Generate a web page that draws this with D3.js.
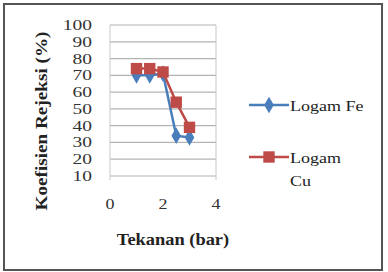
<!DOCTYPE html>
<html>
<head>
<meta charset="utf-8">
<title></title>
<script src="https://d3js.org/d3.v7.min.js"></script>
<style>
body { margin: 0; background: #fff; }
</style>
</head>
<body>
<div id="my_dataviz"></div>
<script type="text/javascript">
var tekanan = [1, 1.5, 2, 2.5, 3]
var logamFe = [70, 70, 71, 34, 33]
var logamCu = [74, 74, 72, 54, 39]
var yTicks = [10, 20, 30, 40, 50, 60, 70, 80, 90, 100]
var xTicks = [0, 2, 4]
var seriesNames = ["Logam Fe", "Logam Cu"]

var width = 388, height = 272
var font = "Liberation Serif"

var svg = d3.select("#my_dataviz")
  .append("svg")
    .attr("width", width)
    .attr("height", height)

// outer frame
svg.append("rect")
  .attr("x", 4).attr("y", 4)
  .attr("width", 378).attr("height", 266)
  .attr("fill", "#fff")
  .attr("stroke", "#555")
  .attr("stroke-width", 2)

var x = d3.scaleLinear().domain([0, 4]).range([110, 216])
var y = d3.scaleLinear().domain([10, 100]).range([176, 25])

// horizontal gridlines
svg.append("g")
  .selectAll("line")
  .data(yTicks)
  .enter().append("line")
    .attr("x1", x(0)).attr("x2", x(4))
    .attr("y1", function(d) { return y(d) })
    .attr("y2", function(d) { return y(d) })
    .attr("stroke", "#b4b4b4")
    .attr("stroke-width", 1.2)

// left and right edges
svg.append("g")
  .selectAll("line")
  .data([0, 4])
  .enter().append("line")
    .attr("x1", function(d) { return x(d) })
    .attr("x2", function(d) { return x(d) })
    .attr("y1", y(100)).attr("y2", y(10) + 4)
    .attr("stroke", "#c8c8c8")

// text is a bit wider than normal in the picture, so stretch it sideways
function stretched(g, tx, ty, sx) {
  return g.append("text")
    .attr("font-family", font)
    .attr("transform", "translate(" + tx + "," + ty + ") scale(" + sx + ",1)")
}

// y axis labels
yTicks.forEach(function(d) {
  stretched(svg, 92, y(d) + 5, 1.3)
    .attr("text-anchor", "end")
    .attr("font-size", 15)
    .attr("fill", "#333")
    .text(d)
})

// x axis labels
xTicks.forEach(function(d) {
  stretched(svg, x(d), 209, 1.2)
    .attr("text-anchor", "middle")
    .attr("font-size", 15)
    .attr("fill", "#333")
    .text(d)
})

// axis titles
stretched(svg, 173, 245, 1.15)
  .attr("text-anchor", "middle")
  .attr("font-size", 16)
  .attr("font-weight", "bold")
  .attr("fill", "#222")
  .text("Tekanan (bar)")

svg.append("text")
  .attr("font-family", font)
  .attr("transform", "translate(47,121) rotate(-90) scale(1.2,1)")
  .attr("text-anchor", "middle")
  .attr("font-size", 16)
  .attr("font-weight", "bold")
  .attr("fill", "#222")
  .text("Koefisien Rejeksi (%)")

var colors = ["#4a7ebb", "#be4b48"]
var line = d3.line()
  .x(function(d) { return x(d[0]) })
  .y(function(d) { return y(d[1]) })

var data = [d3.zip(tekanan, logamFe), d3.zip(tekanan, logamCu)]
var diamond = d3.symbol().type(d3.symbolDiamond).size(80)
var square = d3.symbol().type(d3.symbolSquare).size(130)

data.forEach(function(pts, i) {
  svg.append("path")
    .datum(pts)
    .attr("d", line)
    .attr("fill", "none")
    .attr("stroke", colors[i])
    .attr("stroke-width", 2.5)
  svg.append("g")
    .selectAll("path")
    .data(pts)
    .enter().append("path")
      .attr("transform", function(d) { return "translate(" + x(d[0]) + "," + y(d[1]) + ")" })
      .attr("d", i == 0 ? diamond : square)
      .attr("fill", colors[i])
})

// legend
var legendY = [105, 157]
seriesNames.forEach(function(name, i) {
  var ly = legendY[i]
  svg.append("line")
    .attr("x1", 249).attr("x2", 289)
    .attr("y1", ly).attr("y2", ly)
    .attr("stroke", colors[i])
    .attr("stroke-width", 2.5)
  svg.append("path")
    .attr("transform", "translate(269," + ly + ")")
    .attr("d", i == 0 ? diamond : square)
    .attr("fill", colors[i])
  var parts = i == 0 ? [name] : name.split(" ")
  parts.forEach(function(p, k) {
    stretched(svg, 290, ly + 6 + k * 23, 1.2)
      .attr("font-size", 15)
      .attr("fill", "#222")
      .text(p)
  })
})
</script>
</body>
</html>
